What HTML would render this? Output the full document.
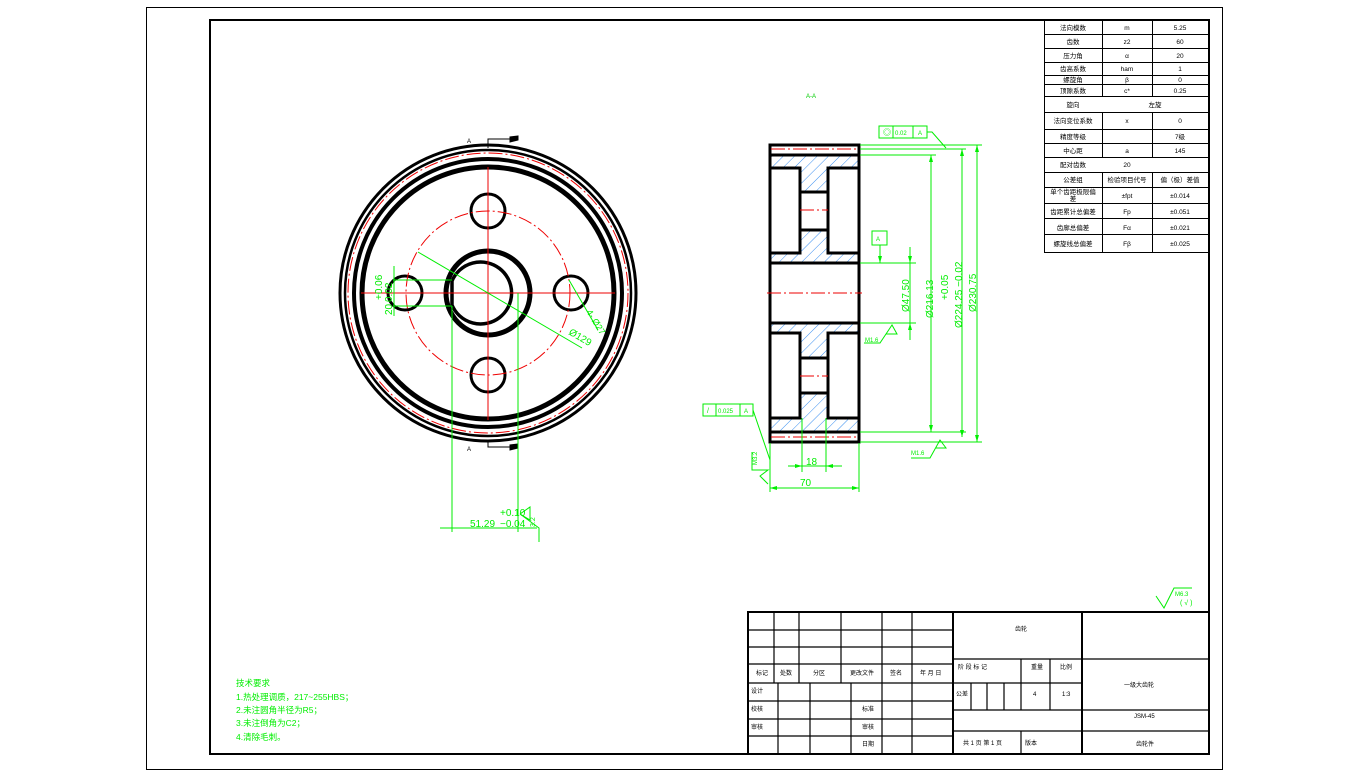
<!DOCTYPE html>
<html><head><meta charset="utf-8"><style>
html,body{margin:0;padding:0;background:#fff;}
svg{display:block;}
text{font-family:"Liberation Sans","Noto Sans CJK SC",sans-serif;}
</style></head><body>
<svg width="1369" height="776" viewBox="0 0 1369 776" xmlns="http://www.w3.org/2000/svg">
<defs>
<pattern id="h" width="8" height="8" patternUnits="userSpaceOnUse" patternTransform="rotate(45)">
<line x1="0" y1="0" x2="0" y2="8" stroke="#3a8ff0" stroke-width="1"/>
</pattern>
</defs>
<rect x="0" y="0" width="1369" height="776" fill="#fff"/>
<rect x="146.5" y="7.5" width="1076" height="762" fill="none" stroke="#000" stroke-width="1"/>
<rect x="210" y="20" width="999" height="734" fill="none" stroke="#000" stroke-width="2"/>

<!-- LEFT VIEW -->
<g fill="none" stroke="#000">
<circle cx="488" cy="293" r="148" stroke-width="3"/>
<circle cx="488" cy="293" r="143" stroke-width="2.5"/>
<circle cx="488" cy="293" r="134" stroke-width="4"/>
<circle cx="488" cy="293" r="126" stroke-width="5"/>
<circle cx="488" cy="293" r="42" stroke-width="5"/>
<path d="M452 281 A31 31 0 1 1 452 305 Z" stroke-width="3.5"/>
<circle cx="488" cy="211" r="17" stroke-width="3"/>
<circle cx="488" cy="375" r="17" stroke-width="3"/>
<circle cx="405" cy="293" r="17" stroke-width="3"/>
<circle cx="571" cy="293" r="17" stroke-width="3"/>
</g>
<g fill="none" stroke="#e00" stroke-width="1">
<circle cx="488" cy="293" r="140" stroke-dasharray="14 3 2 3"/>
<circle cx="488" cy="293" r="82" stroke-dasharray="14 3 2 3"/>
<line x1="361" y1="293" x2="615" y2="293"/>
<line x1="488" y1="167" x2="488" y2="420"/>
</g>
<!-- section marks -->
<g stroke="#000" stroke-width="1" fill="#000">
<polyline points="488,148 488,139 518,139" fill="none"/>
<polygon points="518,136 510,137 510,142 518,140"/>
<polyline points="488,440 488,447 518,447" fill="none"/>
<polygon points="518,444 510,445 510,450 518,448"/>
</g>
<text x="467" y="143" font-size="6">A</text>
<text x="467" y="451" font-size="6">A</text>
<!-- green dims left -->
<g stroke="#0e0" stroke-width="1" fill="none">
<line x1="393" y1="280" x2="452" y2="280"/>
<line x1="393" y1="306" x2="452" y2="306"/>
<line x1="452" y1="306" x2="452" y2="532"/>
<line x1="518" y1="293" x2="518" y2="532"/>
<line x1="440" y1="528" x2="537" y2="528"/>
<line x1="394" y1="266" x2="394" y2="316"/>
<line x1="418" y1="252" x2="582" y2="348"/>
<line x1="569" y1="280" x2="598" y2="330"/>
<polyline points="520,514 530,507 530,520 520,514 539,528 539,542"/>
</g>
<g fill="#0e0" font-size="10">
<text x="470" y="527">51.29</text>
<text x="500" y="516">+0.10</text>
<text x="500" y="527">−0.04</text>
<text transform="translate(382,300) rotate(-90)" font-size="10">+0.06</text>
<text transform="translate(392,302) rotate(-90)" font-size="10">0.02</text>
<text transform="translate(392,315) rotate(-90)" font-size="10">20</text>
<text transform="translate(568,334) rotate(30)" font-size="10">Ø129</text>
<text transform="translate(586,312) rotate(58)" font-size="9">4- Ø27</text>
<text transform="translate(535,527) rotate(-90)" font-size="7">3.2</text>
</g>

<!-- SECTION VIEW -->
<text x="806" y="98" font-size="6" fill="#0c0">A-A</text>
<g>
<rect x="770" y="155" width="89" height="13" fill="url(#h)"/>
<rect x="770" y="253" width="89" height="10" fill="url(#h)"/>
<rect x="770" y="323" width="89" height="10" fill="url(#h)"/>
<rect x="770" y="418" width="89" height="14" fill="url(#h)"/>
<rect x="800" y="168" width="28" height="24" fill="url(#h)"/>
<rect x="800" y="230" width="28" height="23" fill="url(#h)"/>
<rect x="800" y="333" width="28" height="25" fill="url(#h)"/>
<rect x="800" y="393" width="28" height="25" fill="url(#h)"/>
</g>
<g stroke="#000" stroke-width="3" fill="none">
<rect x="770" y="145" width="89" height="297"/>
<line x1="770" y1="155" x2="859" y2="155"/>
<line x1="770" y1="432" x2="859" y2="432"/>
<rect x="770" y="168" width="30" height="85"/>
<rect x="828" y="168" width="31" height="85"/>
<rect x="770" y="333" width="30" height="85"/>
<rect x="828" y="333" width="31" height="85"/>
<line x1="770" y1="263" x2="859" y2="263"/>
<line x1="770" y1="323" x2="859" y2="323"/>
<line x1="800" y1="192" x2="828" y2="192"/>
<line x1="800" y1="230" x2="828" y2="230"/>
<line x1="800" y1="358" x2="828" y2="358"/>
<line x1="800" y1="393" x2="828" y2="393"/>
</g>
<g stroke="#e00" stroke-width="1" stroke-dasharray="14 3 2 3">
<line x1="771" y1="149" x2="858" y2="149"/>
<line x1="771" y1="437" x2="858" y2="437"/>
<line x1="767" y1="293" x2="862" y2="293"/>
<line x1="800" y1="210" x2="828" y2="210"/>
<line x1="800" y1="376" x2="828" y2="376"/>
</g>
<!-- green dims section -->
<g stroke="#0e0" stroke-width="1" fill="none">
<line x1="860" y1="145" x2="982" y2="145"/>
<line x1="860" y1="149" x2="966" y2="149"/>
<line x1="860" y1="155" x2="936" y2="155"/>
<line x1="860" y1="432" x2="966" y2="432"/>
<line x1="860" y1="442" x2="982" y2="442"/>
<line x1="860" y1="263" x2="916" y2="263"/>
<line x1="860" y1="323" x2="916" y2="323"/>
<line x1="931" y1="155" x2="931" y2="432"/>
<line x1="962" y1="149" x2="962" y2="437"/>
<line x1="977" y1="145" x2="977" y2="442"/>
<line x1="910" y1="247" x2="910" y2="340"/>
<rect x="872" y="231" width="15" height="14"/>
<line x1="880" y1="245" x2="880" y2="263"/>
<rect x="879" y="126" width="48" height="12"/>
<line x1="893" y1="126" x2="893" y2="138"/><line x1="913" y1="126" x2="913" y2="138"/>
<polyline points="927,132 932,132 946,148"/>
<rect x="703" y="404" width="50" height="12"/>
<line x1="716" y1="404" x2="716" y2="416"/><line x1="740" y1="404" x2="740" y2="416"/>
<polyline points="753,410 770,460"/>
<line x1="770" y1="443" x2="770" y2="492"/>
<line x1="859" y1="443" x2="859" y2="492"/>
<line x1="802" y1="418" x2="802" y2="472"/>
<line x1="826" y1="418" x2="826" y2="472"/>
<line x1="770" y1="488" x2="859" y2="488"/>
<line x1="788" y1="466" x2="842" y2="466"/>
<polyline points="864,343 880,343 892,325 897,334 886,334"/>
<polyline points="911,458 930,458 940,440 946,448 936,448"/>
<polyline points="752,452 752,470 768,470 760,476 768,484 760,476"/>
</g>
<g fill="#0e0" stroke="none">
<polygon points="770,488 777,486 777,490"/><polygon points="859,488 852,486 852,490"/>
<polygon points="802,466 795,464 795,468"/><polygon points="826,466 833,464 833,468"/>
<polygon points="931,155 929,162 933,162"/><polygon points="931,432 929,425 933,425"/>
<polygon points="962,149 960,156 964,156"/><polygon points="962,437 960,430 964,430"/>
<polygon points="977,145 975,152 979,152"/><polygon points="977,442 975,435 979,435"/>
<polygon points="910,263 908,256 912,256"/><polygon points="910,323 908,330 912,330"/>
<polygon points="880,263 878,256 882,256"/>
</g>
<g fill="#0e0" font-size="10">
<text x="806" y="465">18</text>
<text x="800" y="486">70</text>
<text transform="translate(909,312) rotate(-90)">Ø47.50</text>
<text transform="translate(933,318) rotate(-90)">Ø216.13</text>
<text transform="translate(948,300) rotate(-90)">+0.05</text>
<text transform="translate(962,328) rotate(-90)">Ø224.25 −0.02</text>
<text transform="translate(976,312) rotate(-90)">Ø230.75</text>
<text x="865" y="342" font-size="6">M1.6</text>
<text x="911" y="455" font-size="6">M1.6</text>
<text x="895" y="135" font-size="6">0.02</text>
<text x="918" y="135" font-size="6">A</text>
<text x="883" y="135" font-size="8">◎</text>
<text x="876" y="241" font-size="6">A</text>
<text x="707" y="413" font-size="7">/</text>
<text x="718" y="413" font-size="6">0.025</text>
<text x="744" y="413" font-size="6">A</text>
<text transform="translate(757,465) rotate(-90)" font-size="6">M3.2</text>
</g>

<!-- PARAM TABLE -->
<g stroke="#000" stroke-width="1" fill="none">
<rect x="1044.5" y="20.5" width="165" height="232"/>
<path d="M1044 34.5H1209M1044 48.5H1209M1044 62.5H1209M1044 75.5H1209M1044 84.5H1209M1044 96.5H1209M1044 112.5H1209M1044 129.5H1209M1044 143.5H1209M1044 157.5H1209M1044 172.5H1209M1044 187.5H1209M1044 203.5H1209M1044 218.5H1209M1044 234.5H1209"/>
<path d="M1102.5 20V96M1152.5 20V96M1102.5 112V157M1152.5 112V157M1102.5 172V253M1152.5 172V253"/>
</g>
<g font-size="6.5" fill="#000" text-anchor="middle">
<text x="1073" y="30">法向模数</text><text x="1127" y="30">m</text><text x="1180" y="30">5.25</text>
<text x="1073" y="44">齿数</text><text x="1127" y="44">z2</text><text x="1180" y="44">60</text>
<text x="1073" y="58">压力角</text><text x="1127" y="58">α</text><text x="1180" y="58">20</text>
<text x="1073" y="71">齿高系数</text><text x="1127" y="71">ham</text><text x="1180" y="71">1</text>
<text x="1073" y="82">螺旋角</text><text x="1127" y="82">β</text><text x="1180" y="82">0</text>
<text x="1073" y="93">顶隙系数</text><text x="1127" y="93">c*</text><text x="1180" y="93">0.25</text>
<text x="1073" y="107">旋向</text><text x="1155" y="107">左旋</text>
<text x="1073" y="123">法向变位系数</text><text x="1127" y="123">x</text><text x="1180" y="123">0</text>
<text x="1073" y="139">精度等级</text><text x="1180" y="139">7级</text>
<text x="1073" y="153">中心距</text><text x="1127" y="153">a</text><text x="1180" y="153">145</text>
<text x="1073" y="167">配对齿数</text><text x="1127" y="167">20</text>
<text x="1073" y="182">公差组</text><text x="1127" y="182">检验项目代号</text><text x="1180" y="182">偏（极）差值</text>
<text x="1073" y="194">单个齿距极限偏</text><text x="1073" y="201">差</text><text x="1127" y="198">±fpt</text><text x="1180" y="198">±0.014</text>
<text x="1073" y="214">齿距累计总偏差</text><text x="1127" y="214">Fp</text><text x="1180" y="214">±0.051</text>
<text x="1073" y="230">齿廓总偏差</text><text x="1127" y="230">Fα</text><text x="1180" y="230">±0.021</text>
<text x="1073" y="246">螺旋线总偏差</text><text x="1127" y="246">Fβ</text><text x="1180" y="246">±0.025</text>
</g>

<!-- roughness top-right -->
<g stroke="#0e0" fill="none" stroke-width="1"><polyline points="1156,596 1164,608 1174,588 1192,588"/></g>
<text x="1175" y="596" font-size="6" fill="#0e0">M6.3</text>
<text x="1180" y="605" font-size="7" fill="#0e0">( √ )</text>

<!-- TITLE BLOCK -->
<g stroke="#000" stroke-width="2" fill="none">
<rect x="748" y="612" width="461" height="142"/>
<line x1="953" y1="612" x2="953" y2="754"/>
<line x1="1082" y1="612" x2="1082" y2="754"/>
</g>
<g stroke="#000" stroke-width="1.2" fill="none">
<path d="M748 630H953M748 647H953M748 664H953M748 683H953M748 701H953M748 719H953M748 736H953"/>
<path d="M774 612V683M799 612V683M841 612V683M882 612V754M912 612V754"/>
<path d="M778 683V754M810 683V754M851 683V754"/>
<path d="M953 659H1209M953 683H1082M953 710H1209M953 731H1209"/>
<path d="M1021 659V710M1050 659V710M971 683V710M987 683V710M1004 683V710M1021 731V754"/>
</g>
<g font-size="6" fill="#000">
<text x="756" y="675">标记</text><text x="780" y="675">处数</text><text x="813" y="675">分区</text><text x="850" y="675">更改文件</text><text x="890" y="675">签名</text><text x="920" y="675">年 月 日</text>
<text x="751" y="693">设计</text><text x="751" y="711">校核</text><text x="751" y="729">审核</text>
<text x="862" y="711">标准</text><text x="862" y="729">审核</text><text x="862" y="746">日期</text>
<text x="1015" y="631">齿轮</text>
<text x="958" y="669">阶 段 标 记</text><text x="1031" y="669">重量</text><text x="1060" y="669">比例</text>
<text x="956" y="696">公差</text><text x="1033" y="696">4</text><text x="1062" y="696">1:3</text>
<text x="963" y="745">共 1 页   第 1 页</text><text x="1025" y="745">版本</text>
<text x="1124" y="687">一级大齿轮</text>
<text x="1134" y="718">JSM-45</text>
<text x="1136" y="746">齿轮件</text>
</g>

<!-- tech requirements -->
<g font-size="8.5" fill="#0e0">
<text x="236" y="686">技术要求</text>
<text x="236" y="700">1.热处理调质，217~255HBS；</text>
<text x="236" y="713">2.未注圆角半径为R5；</text>
<text x="236" y="726">3.未注倒角为C2；</text>
<text x="236" y="740">4.清除毛刺。</text>
</g>
</svg>
</body></html>
